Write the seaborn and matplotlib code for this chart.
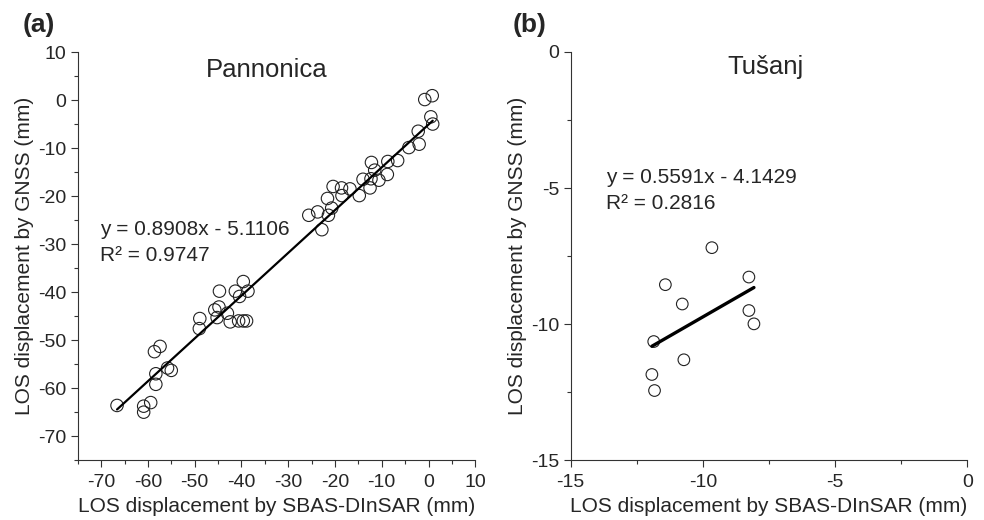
import numpy as np
import pandas as pd
import seaborn as sns
import matplotlib.pyplot as plt
from matplotlib.ticker import MultipleLocator

# (a) Pannonica - LOS displacement (mm)
pan_sbas = [-0.8, 0.8, 0.5, 0.9, -2.2, -2.0, -4.2, -6.6, -8.7, -12.2, -8.8, -10.6,
            -11.5, -12.3, -14.0, -12.5, -14.8, -16.8, -18.6, -18.5, -20.4, -21.6,
            -20.7, -21.4, -23.7, -25.6, -22.8,
            -66.6, -60.9, -60.9, -59.4, -58.3, -58.3, -58.6, -57.4, -55.8, -55.0,
            -49.0, -48.9, -45.7, -44.8, -45.2, -44.7, -43.0, -42.4, -41.3, -40.4,
            -40.6, -39.6, -38.9, -39.6, -38.6]
pan_gnss = [0.1, 0.9, -3.5, -5.0, -6.5, -9.2, -9.9, -12.6, -12.8, -13.0, -15.5, -16.7,
            -14.6, -16.4, -16.5, -18.3, -19.9, -18.5, -18.3, -19.9, -18.0, -20.5,
            -22.5, -24.0, -23.3, -24.0, -27.0,
            -63.6, -63.75, -65.0, -63.0, -59.2, -57.0, -52.4, -51.3, -55.8, -56.3,
            -47.6, -45.5, -43.7, -43.1, -45.3, -39.8, -44.4, -46.2, -39.8, -40.9,
            -46.0, -46.0, -46.0, -37.8, -39.8]
pan_slope, pan_icpt, pan_r2 = 0.8908, -5.1106, 0.9747

# (b) Tušanj
tus_sbas = [-9.66, -11.42, -8.26, -10.78, -8.26, -8.07, -11.86, -10.72, -11.93, -11.83]
tus_gnss = [-7.19, -8.55, -8.27, -9.26, -9.50, -9.99, -10.64, -11.31, -11.85, -12.44]
tus_slope, tus_icpt, tus_r2 = 0.5591, -4.1429, 0.2816

sns.set_style('ticks')
plt.rcParams['font.family'] = ['Liberation Sans', 'DejaVu Sans']
plt.rcParams['axes.unicode_minus'] = False
plt.rcParams['axes.edgecolor'] = '#333333'
plt.rcParams['axes.linewidth'] = 0.8

fig = plt.figure(figsize=(9.84, 5.2), dpi=100)
ax1 = fig.add_axes([0.079, 0.115, 0.404, 0.785])
ax2 = fig.add_axes([0.580, 0.115, 0.403, 0.785])


def panel(ax, xs, ys, slope, icpt, r2, title, msize, lw, eq_pos, title_pos):
    df = pd.DataFrame({'sbas': xs, 'gnss': ys})
    fit = pd.DataFrame({'sbas': [df['sbas'].min(), df['sbas'].max()]})
    fit['gnss'] = slope * fit['sbas'] + icpt
    sns.scatterplot(data=df, x='sbas', y='gnss', ax=ax, s=msize, facecolor='none',
                    edgecolor='#222222', linewidth=0.8, zorder=3)
    sns.lineplot(data=fit, x='sbas', y='gnss', ax=ax, color='black', linewidth=lw, zorder=4)
    ax.text(title_pos[0], title_pos[1], title, transform=ax.transAxes,
            ha='center', va='center', fontsize=18.5)
    sign = '-' if icpt < 0 else '+'
    ax.text(eq_pos[0], eq_pos[1], f'y = {slope:.4f}x {sign} {abs(icpt):.4f}',
            transform=ax.transAxes, ha='left', va='center', fontsize=15)
    ax.text(eq_pos[0], eq_pos[1] - 0.064, f'R² = {r2:.4f}',
            transform=ax.transAxes, ha='left', va='center', fontsize=15)
    ax.set_xlabel('LOS displacement by SBAS-DInSAR (mm)', fontsize=15, labelpad=4)
    ax.set_ylabel('LOS displacement by GNSS (mm)', fontsize=15, labelpad=3)
    ax.tick_params(axis='both', which='major', direction='out', length=5, width=0.8,
                   labelsize=14, pad=3, color='#333333')
    ax.tick_params(axis='x', which='major', pad=5)
    ax.tick_params(axis='both', which='minor', direction='out', length=3, width=0.8,
                   color='#333333')
    sns.despine(ax=ax)


panel(ax1, pan_sbas, pan_gnss, pan_slope, pan_icpt, pan_r2, 'Pannonica', 80, 1.6,
      (0.055, 0.566), (0.476, 0.956))
ax1.set_xlim(-75, 10)
ax1.set_ylim(-75, 10)
ax1.xaxis.set_major_locator(MultipleLocator(10))
ax1.xaxis.set_minor_locator(MultipleLocator(5))
ax1.yaxis.set_major_locator(MultipleLocator(10))
ax1.yaxis.set_minor_locator(MultipleLocator(5))
ax1.set_xticks(np.arange(-70, 11, 10))
ax1.set_yticks(np.arange(-70, 11, 10))

panel(ax2, tus_sbas, tus_gnss, tus_slope, tus_icpt, tus_r2, 'Tušanj', 70, 2.4,
      (0.09, 0.692), (0.491, 0.963))
ax2.set_xlim(-15, 0)
ax2.set_ylim(-15, 0)
ax2.xaxis.set_major_locator(MultipleLocator(5))
ax2.xaxis.set_minor_locator(MultipleLocator(2.5))
ax2.yaxis.set_major_locator(MultipleLocator(5))
ax2.yaxis.set_minor_locator(MultipleLocator(2.5))

fig.text(0.023, 0.952, '(a)', fontsize=19, fontweight='bold', ha='left', va='center')
fig.text(0.521, 0.952, '(b)', fontsize=19, fontweight='bold', ha='left', va='center')

fig.savefig('out.png', dpi=100)
